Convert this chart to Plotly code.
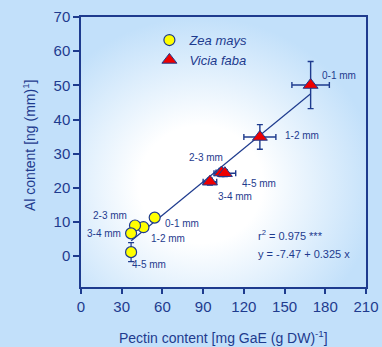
import base64
import plotly.graph_objects as go

# ---- data ----
zea_labels = ["0-1 mm", "1-2 mm", "2-3 mm", "3-4 mm", "4-5 mm"]
zea_x = [54.3, 46.0, 39.8, 36.9, 36.9]
zea_y = [11.3, 8.5, 9.0, 6.7, 1.2]
zea_yerr = [0.6, 0.6, 0.8, 0.6, 2.8]

vicia_labels = ["0-1 mm", "1-2 mm", "2-3 mm", "3-4 mm", "4-5 mm"]
vicia_x = [169.2, 131.8, 103.5, 95.0, 106.0]
vicia_y = [50.1, 34.9, 24.5, 21.8, 24.3]
vicia_xerr = [13.8, 11.8, 4.0, 5.0, 8.0]
vicia_yerr = [6.9, 3.6, 1.2, 1.0, 1.0]

reg_intercept = -7.47
reg_slope = 0.325
reg_x = [37.0, 169.0]
reg_y = [reg_intercept + reg_slope * v for v in reg_x]

x_ticks = [0, 30, 60, 90, 120, 150, 180, 210]
y_ticks = [0, 10, 20, 30, 40, 50, 60, 70]

NAVY = "#1e3b8e"
FONT = "Liberation Sans, Arial, sans-serif"

svg = """<svg xmlns='http://www.w3.org/2000/svg' width='400' height='400' viewBox='0 0 400 400' preserveAspectRatio='none'>
<defs><radialGradient id='g' cx='0.42' cy='0.62' r='0.62'>
<stop offset='0' stop-color='#ffffff'/><stop offset='0.35' stop-color='#ffffff'/>
<stop offset='1' stop-color='#c2e0fa'/></radialGradient></defs>
<rect width='400' height='400' fill='url(#g)'/></svg>"""
bg_uri = "data:image/svg+xml;base64," + base64.b64encode(svg.encode()).decode()

fig = go.Figure()

fig.add_trace(go.Scatter(
    x=reg_x, y=reg_y, mode="lines", line=dict(color=NAVY, width=1.2),
    showlegend=False, hoverinfo="skip"))

fig.add_trace(go.Scatter(
    x=zea_x, y=zea_y, mode="markers", name="<i>Zea mays</i>",
    marker=dict(symbol="circle", size=11, color="#ffff00",
                line=dict(color=NAVY, width=1.2)),
    error_y=dict(type="data", array=zea_yerr, color=NAVY, thickness=1.2, width=3)))

fig.add_trace(go.Scatter(
    x=vicia_x, y=vicia_y, mode="markers", name="<i>Vicia faba</i>",
    marker=dict(symbol="triangle-up", size=13, color="#ee0000",
                line=dict(color=NAVY, width=1)),
    error_x=dict(type="data", array=vicia_xerr, color=NAVY, thickness=1.4, width=3),
    error_y=dict(type="data", array=vicia_yerr, color=NAVY, thickness=1.4, width=3)))

# point labels
zea_label_pos = [(60.6, 9.5, "left"), (49.9, 5.2, "left"), (35.6, 12.0, "right"),
                 (30.7, 6.8, "right"), (36.1, -2.5, "left")]
vicia_label_pos = [(176.3, 52.9, "left"), (148.6, 35.4, "left"), (106, 29.0, "right"),
                   (99.5, 17.6, "left"), (117.2, 21.3, "left")]
for (lx, ly, al), t in zip(zea_label_pos, zea_labels):
    fig.add_annotation(x=lx, y=ly, text=t, showarrow=False, xanchor=al,
                       font=dict(size=10, color=NAVY, family=FONT))
for (lx, ly, al), t in zip(vicia_label_pos, vicia_labels):
    fig.add_annotation(x=lx, y=ly, text=t, showarrow=False, xanchor=al,
                       font=dict(size=10, color=NAVY, family=FONT))

fig.add_annotation(x=129, y=6.2, text="r<sup>2</sup> = 0.975 ***", showarrow=False,
                   xanchor="left", font=dict(size=11, color=NAVY, family=FONT))
fig.add_annotation(x=129, y=0.6, text="y = -7.47 + 0.325 x", showarrow=False,
                   xanchor="left", font=dict(size=11, color=NAVY, family=FONT))

# axis titles
fig.add_annotation(xref="paper", yref="paper", x=0.5, y=0, yshift=-50,
                   text="Pectin content [mg GaE (g DW)<sup>-1</sup>]", showarrow=False,
                   xanchor="center", yanchor="middle",
                   font=dict(size=14, color=NAVY, family=FONT))
fig.add_annotation(xref="paper", yref="paper", x=0, y=0.5, xshift=-52, yshift=7,
                   text="Al content [ng (mm)<sup>1</sup>]", showarrow=False, textangle=-90,
                   xanchor="center", yanchor="middle",
                   font=dict(size=14, color=NAVY, family=FONT))

fig.update_layout(
    width=382, height=347,
    margin=dict(l=81, r=16, t=17, b=60),
    paper_bgcolor="#c2e0fa", plot_bgcolor="rgba(0,0,0,0)",
    font=dict(family=FONT, color=NAVY),
    images=[dict(source=bg_uri, xref="paper", yref="paper", x=0, y=1,
                 sizex=1, sizey=1, xanchor="left", yanchor="top",
                 sizing="stretch", layer="below")],
    legend=dict(x=0.24, y=0.97, xanchor="left", yanchor="top",
                bgcolor="rgba(0,0,0,0)", font=dict(size=13, color=NAVY, family=FONT),
                tracegroupgap=0, itemsizing="trace"),
    xaxis=dict(range=[0, 210], tickvals=x_ticks, showgrid=False, zeroline=False,
               showline=True, linecolor=NAVY, linewidth=1.5, mirror=True,
               ticks="outside", ticklen=5, tickcolor=NAVY, tickwidth=1.5,
               automargin=False,
               tickfont=dict(size=15, color=NAVY, family=FONT)),
    yaxis=dict(range=[-9, 70], tickvals=y_ticks, showgrid=False, zeroline=False,
               showline=True, linecolor=NAVY, linewidth=1.5, mirror=True,
               ticks="outside", ticklen=6, tickcolor=NAVY, tickwidth=1.5,
               automargin=False,
               tickfont=dict(size=15, color=NAVY, family=FONT)),
)

fig.write_html("out.html", config={"displayModeBar": False},
               post_script="document.body.style.margin='0';document.body.style.padding='0';")
